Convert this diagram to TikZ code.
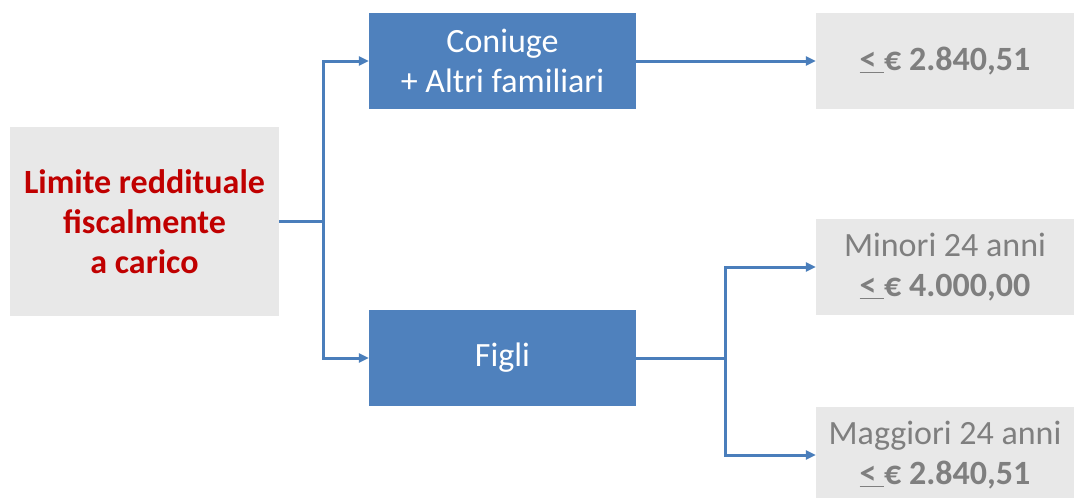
\documentclass[tikz,border=0pt]{standalone}
\usepackage{fontspec}
\setmainfont{Carlito}
\usetikzlibrary{arrows.meta}
\definecolor{boxblue}{HTML}{4F81BD}
\definecolor{linkblue}{HTML}{4A7EBB}
\definecolor{boxgray}{HTML}{E8E8E8}
\definecolor{txtgray}{HTML}{7F7F7F}
\definecolor{txtred}{HTML}{C00000}
\newcommand{\lte}{\underline{<\ }}

\begin{document}
\begin{tikzpicture}[x=1pt,y=-1pt, >={Triangle[length=10pt,width=9pt]}]
 \useasboundingbox (0,0) rectangle (1074,498);
 \begin{scope}[every node/.style={align=center, inner sep=0pt, font=\fontsize{34}{40}\selectfont}]
   % sinistra
   \node (lim) [fill=boxgray, text=txtred, font=\fontsize{34}{40}\selectfont\bfseries,
                minimum width=269pt, minimum height=189pt] at (144.5,221.5)
                {Limite reddituale\\fiscalmente\\a carico};
   % centro
   \node (con) [fill=boxblue, text=white, minimum width=267pt, minimum height=96pt]
                at (502.5,61) {Coniuge\\+ Altri familiari};
   \node (fig) [fill=boxblue, text=white, minimum width=267pt, minimum height=96pt]
                at (502.5,358) {Figli};
   % destra
   \node (s1) [fill=boxgray, text=txtgray, minimum width=258pt, minimum height=96pt]
                at (945,61) {\bfseries\lte€ 2.840,51};
   \node (s2) [fill=boxgray, text=txtgray, minimum width=258pt, minimum height=96pt]
                at (945,267) {Minori 24 anni\\\bfseries\lte€ 4.000,00};
   \node (s3) [fill=boxgray, text=txtgray, minimum width=258pt, minimum height=96pt]
                at (945,455) {Maggiori 24 anni\\\bfseries\lte€ 2.840,51};
 \end{scope}
 \coordinate (j1) at (323,221.5);
 \coordinate (j2) at (725,358);
 \begin{scope}[draw=linkblue, line width=3pt]
   \draw (lim.east) -- (j1);
   \draw[->] (j1) |- (con.west);
   \draw[->] (j1) |- (fig.west);
   \draw[->] (con.east) -- (s1.west);
   \draw (fig.east) -- (j2);
   \draw[->] (j2) |- (s2.west);
   \draw[->] (j2) |- (s3.west);
 \end{scope}
\end{tikzpicture}
\end{document}
